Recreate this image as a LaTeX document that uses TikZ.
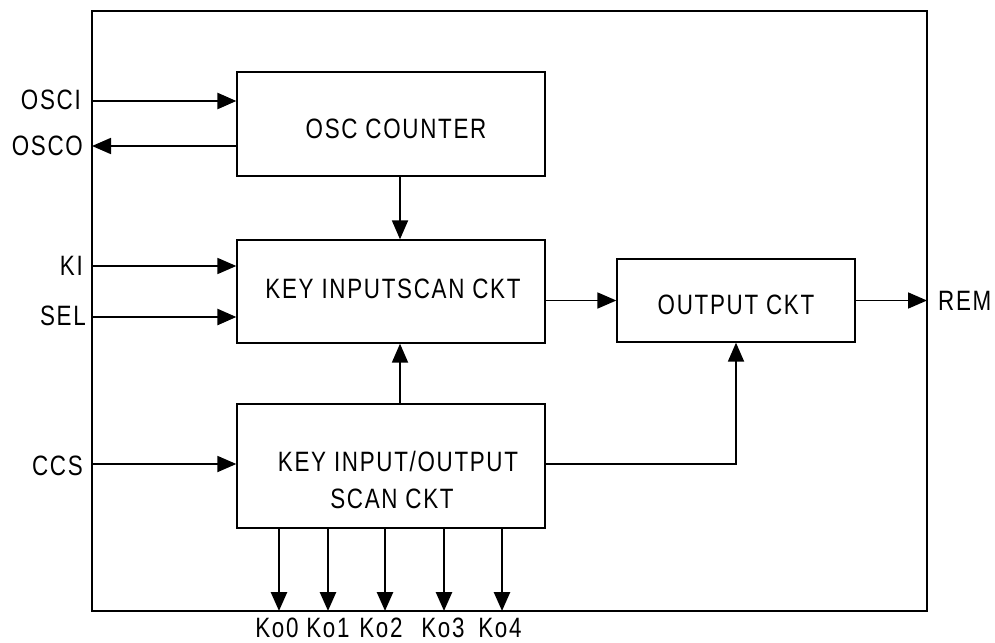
\documentclass[tikz,border=0pt]{standalone}
\usepackage{fontspec}
\setmainfont{Liberation Sans}[FakeStretch=0.8,LetterSpace=6]
\usetikzlibrary{arrows.meta}
\begin{document}
\begin{tikzpicture}[x=1pt,y=-1pt,
  blk/.style={draw,line width=1.3pt,inner sep=0pt},
  txt/.style={font=\fontsize{28}{38}\selectfont,inner sep=0pt,align=center},
  lbl/.style={font=\fontsize{28}{32}\selectfont,inner sep=0pt},
  sig/.style={line width=1.8pt,-{Triangle[length=19pt,width=16pt]}},
  sigb/.style={line width=2.6pt,-{Triangle[length=19pt,width=16pt]}}]
\useasboundingbox (0,0) rectangle (995,642);
% outer frame
\draw[line width=1.3pt] (927,611) -- (92,611) -- (92,11) -- (927,11) -- cycle;
\draw[line width=2.8pt] (92,611) -- (927,611) -- (927,11);
% blocks
\node[blk,minimum width=308pt,minimum height=104pt] (osc) at (391,124) {};
\node[blk,minimum width=308pt,minimum height=103pt] (kis) at (391,291.5) {};
\node[blk,minimum width=238pt,minimum height=83pt] (out) at (736,300.5) {};
\node[blk,minimum width=308pt,minimum height=124pt] (kio) at (391,466) {};
\node[txt] (osct) at (396,129) {OSC COUNTER};
\node[txt] (kist) at (393,289) {KEY INPUTSCAN CKT};
\node[txt] (outt) at (736,305) {OUTPUT CKT};
\node[txt] (kiot1) at (398,461) {KEY INPUT/OUTPUT};
\node[txt] (kiot2) at (392,499) {SCAN CKT};
% frame coordinates
\coordinate (fOSCI) at (92,101);
\coordinate (fOSCO) at (92,146);
\coordinate (fKI) at (92,266);
\coordinate (fSEL) at (92,317);
\coordinate (fCCS) at (92,464);
\coordinate (fREM) at (927,300.5);
\coordinate (vx) at (400,0);
% labels
\node[lbl,anchor=east] (lOSCI) at (81,100) {OSCI};
\node[lbl,anchor=east] (lOSCO) at (83,146) {OSCO};
\node[lbl,anchor=east] (lKI) at (83,266) {KI};
\node[lbl,anchor=east] (lSEL) at (86,316) {SEL};
\node[lbl,anchor=east] (lCCS) at (83,466) {CCS};
\node[lbl,anchor=west] (lREM) at (938,301) {REM};
% signal arrows
\draw[sigb] (fOSCI) -- (fOSCI -| osc.west);
\draw[sig] (fOSCO -| osc.west) -- (fOSCO);
\draw[sig] (fKI) -- (fKI -| kis.west);
\draw[sigb] (fSEL) -- (fSEL -| kis.west);
\draw[sig] (fCCS) -- (fCCS -| kio.west);
\draw[sig] (osc.south -| vx) -- (kis.north -| vx);
\draw[sig] (kio.north -| vx) -- (kis.south -| vx);
\draw[sig] (kis.east |- out.west) -- (out.west);
\draw[sig] (out.east) -- (fREM);
\draw[sig] (kio.east |- fCCS) -| (out.south);
% Ko outputs
\foreach \i/\x/\lx in {0/279/277,1/328/328,2/385/381,3/444/443,4/502/500}{
  \coordinate (ko\i) at (\x,611);
  \draw[sigb] (kio.south -| ko\i) -- (ko\i);
  \node[lbl] (lko\i) at (\lx,628) {Ko\i};
}
\end{tikzpicture}
\end{document}
